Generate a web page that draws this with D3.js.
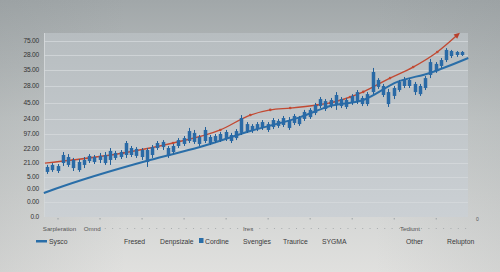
<!DOCTYPE html>
<html>
<head>
<meta charset="utf-8">
<script src="https://cdn.jsdelivr.net/npm/d3@7"></script>
<style>
  html, body { margin: 0; padding: 0; }
  body { width: 500px; height: 272px; overflow: hidden; }
  text { font-family: "Liberation Sans", Arial, sans-serif; }
</style>
</head>
<body>
<svg id="chart" width="500" height="272"></svg>
<script>
// candles: [open, close, high, low]
const candles = [
  [24.5, 27.2, 28.3, 23.4], [28.3, 25.5, 29.3, 24.5], [25, 27.7, 28.8, 23.9], [29.3, 33.7, 35.3, 27.7],
  [32.6, 28.3, 34.2, 27.2], [31, 26.6, 32.1, 25], [25.5, 29.9, 31.5, 24.5], [28.3, 31, 32.6, 26.6],
  [30.4, 33.2, 34.2, 29.3], [32.6, 29.9, 33.7, 28.8], [31, 33.2, 34.8, 29.3], [33.7, 29.3, 35.3, 28.3],
  [31, 35.9, 37.5, 28.3], [34.8, 32.1, 35.9, 31], [32.6, 35.3, 36.4, 31.5], [33.7, 40.2, 41.3, 32.1],
  [37.5, 33.7, 38.6, 32.6], [33.2, 37, 38, 32.1], [36.4, 32.6, 37.5, 31], [36.4, 29.9, 37.5, 27.2],
  [33.7, 38, 39.1, 32.1], [37.5, 40.2, 41.3, 36.4], [40.8, 38, 41.8, 36.4], [37.5, 33.2, 38.6, 32.1],
  [35.3, 38.6, 39.7, 34.2], [38.6, 41.8, 42.9, 37.5], [42.9, 39.7, 44, 38.6], [41.3, 46.7, 48.4, 40.2],
  [45.7, 40.8, 47.3, 39.7], [39.7, 43.5, 44.6, 38.6], [41.3, 47.3, 48.9, 40.2], [43.5, 40.2, 44.6, 39.1],
  [41.3, 44, 45.1, 40.2], [45.1, 41.8, 46.2, 40.8], [42.4, 46.2, 47.3, 41.3], [44.6, 41.3, 45.7, 40.2],
  [42.9, 46.7, 47.8, 41.8], [45.7, 53.8, 55.4, 44.6], [50.5, 46.7, 51.6, 45.7], [46.7, 49.5, 50.5, 45.7],
  [50.5, 47.8, 51.6, 46.7], [48.4, 51.6, 52.7, 47.3], [50.5, 47.3, 51.6, 46.2], [48.9, 52.7, 53.8, 47.8],
  [52.2, 49.5, 53.3, 48.4], [50, 53.8, 54.9, 48.9], [52.7, 48.4, 54.3, 47.3], [51.1, 54.9, 56, 50],
  [53.8, 50.5, 54.9, 49.5], [53.3, 57.1, 58.2, 52.2], [54.3, 58.2, 59.2, 53.3], [56.5, 60.9, 62, 55.4],
  [60.3, 64.1, 65.2, 59.2], [63, 58.7, 64.1, 57.6], [60.3, 63.6, 64.7, 59.2], [60.9, 66.3, 67.9, 58.2],
  [64.1, 60.3, 65.2, 59.2], [59.8, 63.6, 64.7, 58.7], [62, 65.8, 66.8, 60.9], [63, 67.9, 69, 61.4],
  [64.7, 61.4, 65.8, 60.3], [61.4, 66.8, 67.9, 60.3], [67.9, 78.8, 81, 66.8], [74.5, 70.7, 75.5, 69.6],
  [71.2, 66.3, 72.3, 65.2], [67.9, 61.4, 69.6, 59.8], [65.8, 70.1, 71.2, 64.1], [69, 73.4, 74.5, 68],
  [71.2, 75, 76.1, 70.1], [74.5, 71.2, 75.5, 70.1], [72.3, 67.9, 73.4, 66.3], [66.8, 71.2, 72.3, 65.8],
  [70.1, 75.5, 76.6, 69], [77.2, 84.2, 85.9, 75.5], [83.2, 79.3, 84.2, 78.3], [82.1, 85.3, 86.4, 80.9],
  [85.3, 90.8, 91.8, 84.2], [90.2, 87.5, 90.8, 86.4], [88, 89.7, 90.2, 87], [89.7, 88, 90.2, 87.5]
];

// red line [index, value]
const redLine = [
  [-0.4, 29.3], [4.95, 31], [14.5, 34.8], [24, 40.2], [33, 47.3], [38.7, 55.4], [42.5, 58.2],
  [46.3, 59.2], [51.4, 60.9], [53.9, 62], [57.7, 65.2], [60.2, 68], [65.3, 75.5], [69.7, 81.5],
  [74.3, 89.7], [78.1, 98.9]
];

// blue trend line [index, value]
const blueLine = [
  [-0.6, 13], [1.5, 15.2], [19.6, 31], [29.1, 38], [38.7, 46.7], [48.2, 54.3], [53.9, 60.3],
  [60.2, 63.6], [66.7, 73.4], [72.9, 78.3], [80.2, 86.4]
];

const yTickValues = [0, 8.2, 15.2, 21.7, 29.3, 37, 45.1, 53.3, 62, 71.2, 79.9, 88, 95.7];
const yTickLabels = ["0.0", "0.00", "0.00", "5.00", "21.00", "22.00", "97.00", "24.00", "45.00", "28.00", "35.00", "28.00", "75.00"];

const xTickIndex = [-0.8, 7, 37.3, 67.2];
const xTickLabels = ["Sarpleration", "Omnd", "Ires", "Tediunt"];

const legendNames = ["Sysco", "Fresed", "Denpsizale", "Cordine", "Svengies", "Traurice", "SYGMA", "Other", "Relupton"];
const legendSwatch = ["line", null, null, "square", null, null, null, null, null];

const W = 500, H = 272;
const plot = { left: 44, right: 468, top: 33, bottom: 217 };
const svg = d3.select("#chart");

const x = d3.scaleLinear().domain([0, candles.length - 1]).range([47, 462]);
const y = d3.scaleLinear().domain([0, 100]).range([plot.bottom, plot.top]);

// background
const defs = svg.append("defs");
const bg = defs.append("linearGradient").attr("id", "bg").attr("x1", 0).attr("y1", 0).attr("x2", 0).attr("y2", 1);
bg.append("stop").attr("offset", "0%").attr("stop-color", "#a1a7a9");
bg.append("stop").attr("offset", "45%").attr("stop-color", "#c4c8c8");
bg.append("stop").attr("offset", "100%").attr("stop-color", "#e0e0de");
const pg = defs.append("linearGradient").attr("id", "pg").attr("x1", 0).attr("y1", 0).attr("x2", 0).attr("y2", 1);
pg.append("stop").attr("offset", "0%").attr("stop-color", "#b7bdc0");
pg.append("stop").attr("offset", "100%").attr("stop-color", "#cbd0d4");
const side = defs.append("linearGradient").attr("id", "side").attr("x1", 0).attr("y1", 0).attr("x2", 1).attr("y2", 0);
side.append("stop").attr("offset", "0%").attr("stop-color", "#808688").attr("stop-opacity", 0.16);
side.append("stop").attr("offset", "25%").attr("stop-color", "#808688").attr("stop-opacity", 0);
side.append("stop").attr("offset", "75%").attr("stop-color", "#808688").attr("stop-opacity", 0);
side.append("stop").attr("offset", "100%").attr("stop-color", "#808688").attr("stop-opacity", 0.14);

svg.append("rect").attr("width", W).attr("height", H).attr("fill", "url(#bg)");
svg.append("rect").attr("width", W).attr("height", H).attr("fill", "url(#side)");
svg.append("rect")
  .attr("x", plot.left).attr("y", plot.top)
  .attr("width", plot.right - plot.left).attr("height", plot.bottom - plot.top)
  .attr("fill", "url(#pg)");
svg.append("line")
  .attr("x1", plot.left + 0.5).attr("x2", plot.left + 0.5).attr("y1", plot.top).attr("y2", plot.bottom)
  .attr("stroke", "#d2d6d8").attr("stroke-width", 1);

// grid + y labels
svg.append("g").selectAll("line").data(yTickValues.slice(1)).join("line")
  .attr("x1", plot.left).attr("x2", plot.right)
  .attr("y1", d => Math.round(y(d)) + 0.5).attr("y2", d => Math.round(y(d)) + 0.5)
  .attr("stroke", "#d6dadc").attr("stroke-opacity", 0.75).attr("stroke-width", 1);

svg.append("g").selectAll("text").data(yTickValues).join("text")
  .attr("x", 39).attr("y", d => y(d)).attr("dy", "0.35em")
  .attr("text-anchor", "end").attr("fill", "#333")
  .attr("style", "font-size: 6.6px; letter-spacing: -0.2px;")
  .text((d, i) => yTickLabels[i]);

// bottom tick dots
const dotTicks = d3.range(2, 80, 8);
svg.append("g").selectAll("rect").data(dotTicks).join("rect")
  .attr("x", d => x(d)).attr("y", plot.bottom + 1).attr("width", 1).attr("height", 1.5)
  .attr("fill", "#9aa0a4");
svg.append("g").selectAll("rect").data(d3.range(11, 80, 1.4)).join("rect")
  .attr("x", d => x(d)).attr("y", 228).attr("width", 1).attr("height", 1)
  .attr("fill", "#a8acae");
svg.append("text").attr("x", 476).attr("y", 221).attr("fill", "#555")
  .attr("style", "font-size: 5px;").text("0");

// x labels
svg.append("g").selectAll("text").data(xTickIndex).join("text")
  .attr("x", d => x(d)).attr("y", 231)
  .attr("fill", "#555").attr("style", "font-size: 6.2px;")
  .text((d, i) => xTickLabels[i]);

const line = d3.line().x(d => x(d[0])).y(d => y(d[1])).curve(d3.curveMonotoneX);

// red line
svg.append("path").datum(redLine).attr("d", line)
  .attr("fill", "none").attr("stroke", "#c24a33").attr("stroke-width", 1.4);
svg.append("g").selectAll("circle").data(redLine.slice(1, -1)).join("circle")
  .attr("cx", d => x(d[0])).attr("cy", d => y(d[1])).attr("r", 1.3)
  .attr("fill", "#c24a33");
const last = redLine[redLine.length - 1];
const prev = redLine[redLine.length - 2];
const ang = Math.atan2(y(last[1]) - y(prev[1]), x(last[0]) - x(prev[0])) * 180 / Math.PI;
svg.append("path")
  .attr("d", "M3.5,0L-2.5,-2.8L-2.5,2.8Z")
  .attr("transform", `translate(${x(last[0])},${y(last[1])}) rotate(${ang})`)
  .attr("fill", "#b8402c");

// blue trend line
svg.append("path").datum(blueLine).attr("d", line)
  .attr("fill", "none").attr("stroke", "#2a6ea8").attr("stroke-width", 2);

// candles
const cg = svg.append("g").selectAll("g").data(candles).join("g");
cg.append("line")
  .attr("x1", (d, i) => Math.round(x(i)) + 0.5).attr("x2", (d, i) => Math.round(x(i)) + 0.5)
  .attr("y1", d => y(d[2])).attr("y2", d => y(d[3]))
  .attr("stroke", "#22609a").attr("stroke-width", 1);
cg.append("rect")
  .attr("x", (d, i) => Math.round(x(i)) - 1.25)
  .attr("y", d => y(Math.max(d[0], d[1])))
  .attr("width", 3.5)
  .attr("height", d => Math.max(1.2, Math.abs(y(d[0]) - y(d[1]))))
  .attr("fill", "#2a6aa6");

// legend
const legendX = [49, 124, 160, 205, 243, 283, 322, 406, 447];
const lg = svg.append("g").selectAll("g").data(legendNames).join("g")
  .attr("transform", (d, i) => `translate(${legendX[i]},244)`);
lg.append("text").attr("fill", "#3a3a3a").attr("style", "font-size: 6.8px;").text(d => d);
lg.filter((d, i) => legendSwatch[i] === "line").append("rect")
  .attr("x", -13).attr("y", -4).attr("width", 11).attr("height", 2.5).attr("fill", "#2a6ea8");
lg.filter((d, i) => legendSwatch[i] === "square").append("rect")
  .attr("x", -6).attr("y", -6).attr("width", 4.5).attr("height", 5).attr("fill", "#2a6ea8");
</script>
</body>
</html>
